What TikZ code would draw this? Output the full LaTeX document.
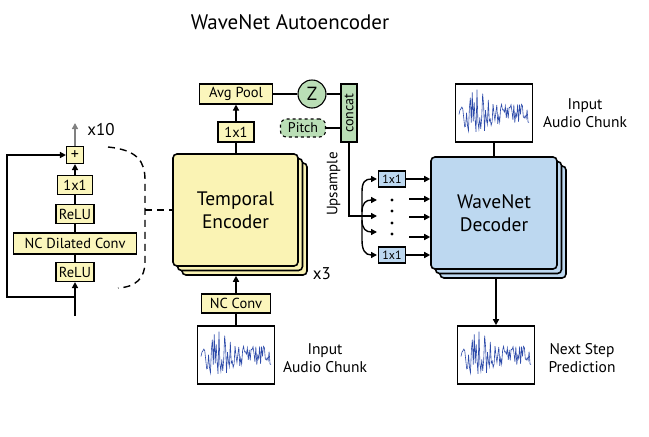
\documentclass[tikz,border=0pt]{standalone}
\usepackage{fontspec}
\setmainfont{PT Sans}
\usetikzlibrary{arrows.meta,calc}
\definecolor{yel}{RGB}{251,246,188}
\definecolor{yelbig}{RGB}{250,243,180}
\definecolor{blu}{RGB}{189,216,240}
\definecolor{grn}{RGB}{186,222,182}
\definecolor{wav}{RGB}{45,75,170}
\tikzset{
  ybox/.style={draw=black,line width=1.1pt,fill=yel,inner sep=1pt,minimum height=19pt,font=\fontsize{14.5}{15}\selectfont},
  bbox/.style={draw=black,line width=1.1pt,fill=blu,inner sep=1pt,minimum width=27pt,minimum height=16pt,font=\fontsize{12}{12}\selectfont},
  gbox/.style={draw=black,line width=1.1pt,fill=grn,inner sep=1pt},
  bigbox/.style={draw=black,line width=1.6pt,rounded corners=4pt,minimum width=125pt,minimum height=112pt,align=center,font=\fontsize{19.5}{23}\selectfont},
  wbox/.style={draw=black,line width=1.6pt,fill=white,minimum width=77pt,minimum height=58pt,inner sep=0pt},
  conn/.style={line width=1.4pt},
  arr/.style={line width=1.4pt,-{Triangle[length=6pt,width=6pt]}},
  lbl/.style={align=center,font=\fontsize{15.5}{18}\selectfont},
}
\newcommand\mywave[1]{%
  \pgfmathsetseed{11}%
  \begin{scope}
  \clip ($(#1.south west)+(3pt,-3pt)$) rectangle ($(#1.north east)+(-3pt,3pt)$);
  \draw[wav,line width=0.6pt,shift={(#1.center)}] plot[samples=75,domain=-35:35,variable=\t]
     (\t,{1+(10+19*exp(-((\t+16)*(\t+16))/160))*rand});
  \end{scope}}
\begin{document}
\begin{tikzpicture}[x=1pt,y=-1pt]
\useasboundingbox (0,0) rectangle (649,437);
% title
\node[font=\fontsize{21}{24}\selectfont] (title) at (290,22) {WaveNet Autoencoder};

% ---------- left residual block ----------
\node[ybox,minimum width=17pt,minimum height=17pt,inner sep=0pt,font=\fontsize{16}{16}\selectfont] (plus) at (75,155) {+};
\node[ybox,minimum width=35pt] (c11) at (75,185) {1x1};
\node[ybox,minimum width=38pt] (relu1) at (75,214) {ReLU};
\node[ybox,minimum width=123pt,minimum height=21pt] (ncd) at (75,243.5) {NC Dilated Conv};
\node[ybox,minimum width=38pt] (relu2) at (75,272) {ReLU};
\coordinate (inbot) at (75,316);
\coordinate (skip) at (75,297);
\coordinate (outtop) at (75,123);
\draw[arr] (inbot) -- (relu2);
\draw[conn] (relu2) -- (ncd);
\draw[conn] (ncd) -- (relu1);
\draw[conn] (relu1) -- (c11);
\draw[arr] (c11) -- (plus);
\draw[line width=1.4pt,gray,-{Triangle[length=6pt,width=6pt]}] (plus) -- (outtop);
\draw[arr] (skip) -- (7,297) |- (plus.west);
\node[font=\fontsize{17}{18}\selectfont] (x10) at (101,130) {x10};
\draw[line width=1.4pt,dash pattern=on 7pt off 5pt] (108,147) .. controls (138,150) and (145,162) .. (145,180) -- (145,262) .. controls (145,278) and (136,287) .. (118,288);

% ---------- temporal encoder ----------
\node[bigbox,fill=yelbig] (encB) at (244.5,219) {};
\node[bigbox,fill=yelbig] (encA) at (240,214.5) {};
\node[bigbox,fill=yelbig] (enc) at (235.5,210) {Temporal\\Encoder};
\coordinate (dashend) at (145,210);
\draw[line width=1.4pt,dash pattern=on 7pt off 5pt] (dashend) -- (enc.west);
\node[font=\fontsize{17}{18}\selectfont] (x3) at (322,274) {x3};
\node[ybox,minimum width=36pt,minimum height=20pt] (e11) at (236,132) {1x1};
\node[ybox,minimum width=73pt,minimum height=20pt] (avg) at (236,94) {Avg Pool};
\draw[conn] (enc.north -| e11) -- (e11);
\draw[arr] (e11) -- (avg);
\node[gbox,circle,minimum size=28pt,font=\fontsize{19}{20}\selectfont] (z) at (312,94) {Z};
\node[gbox,minimum width=16pt,minimum height=58pt] (concat) at (349,113) {};
\node[rotate=90,font=\fontsize{14}{14}\selectfont] (concattxt) at (concat) {concat};
\node[gbox,dashed,rounded corners=6pt,minimum width=45pt,minimum height=18pt,font=\fontsize{14}{14}\selectfont] (pitch) at (303,128) {Pitch};
\draw[conn] (avg) -- (z);
\draw[conn] (z) -- (z -| concat.west);
\draw[conn] (pitch) -- (pitch -| concat.west);

% input audio bottom
\node[ybox,minimum width=69pt,minimum height=19pt] (ncc) at (236,303.5) {NC Conv};
\node[wbox] (inA) at (236,355) {};
\mywave{inA}
\draw[conn] (inA) -- (ncc);
\draw[arr] (ncc) -- (ncc |- encB.south);
\node[lbl] (inAtxt) at (325,358) {Input\\Audio Chunk};

% ---------- upsample / branches ----------
\coordinate (j) at (362,216);
\draw[conn] (concat.south) |- (j);
\node[rotate=90,font=\fontsize{15}{15}\selectfont,anchor=south] (ups) at (344,184) {Upsample};
\node[bbox] (b1) at (392,179) {1x1};
\node[bbox] (b2) at (392,255) {1x1};
\coordinate (t1) at (377,179);
\coordinate (t2) at (377,200);
\coordinate (t3) at (377,216);
\coordinate (t4) at (377,232);
\coordinate (t5) at (377,255);
\draw[arr] (j) -- (t3);
\draw[arr] (j) -- (362,192) .. controls (362,182) and (365,179) .. (t1);
\draw[arr] (j) -- (362,240) .. controls (362,250) and (365,255) .. (t5);
\draw[arr] (362,212) .. controls (362,203) and (366,200) .. (t2);
\draw[arr] (362,220) .. controls (362,229) and (366,232) .. (t4);
\foreach \yy/\nm in {200/d1,211/d2,223/d3,234/d4}{\fill (392,\yy) circle (1.6pt) coordinate (\nm);}

% ---------- decoder ----------
\node[bigbox,fill=blu,minimum width=126pt] (decB) at (503,222) {};
\node[bigbox,fill=blu,minimum width=126pt] (decA) at (498.5,217.5) {};
\node[bigbox,fill=blu,minimum width=126pt] (dec) at (494,213) {WaveNet\\Decoder};
\coordinate (r2) at (409,199);
\coordinate (r3) at (409,217);
\coordinate (r4) at (409,237);
\draw[arr] (b1) -- (b1 -| dec.west);
\draw[arr] (r2) -- (r2 -| dec.west);
\draw[arr] (r3) -- (r3 -| dec.west);
\draw[arr] (r4) -- (r4 -| dec.west);
\draw[arr] (b2) -- (b2 -| dec.west);

\node[wbox] (inB) at (494,113) {};
\mywave{inB}
\draw[conn] (inB) -- (dec);
\node[lbl] (inBtxt) at (585,113) {Input\\Audio Chunk};

\node[wbox] (outC) at (496,355) {};
\mywave{outC}
\draw[arr] (decB.south -| outC) -- (outC);
\node[lbl] (outtxt) at (582,358) {Next Step\\Prediction};
\end{tikzpicture}
\end{document}
